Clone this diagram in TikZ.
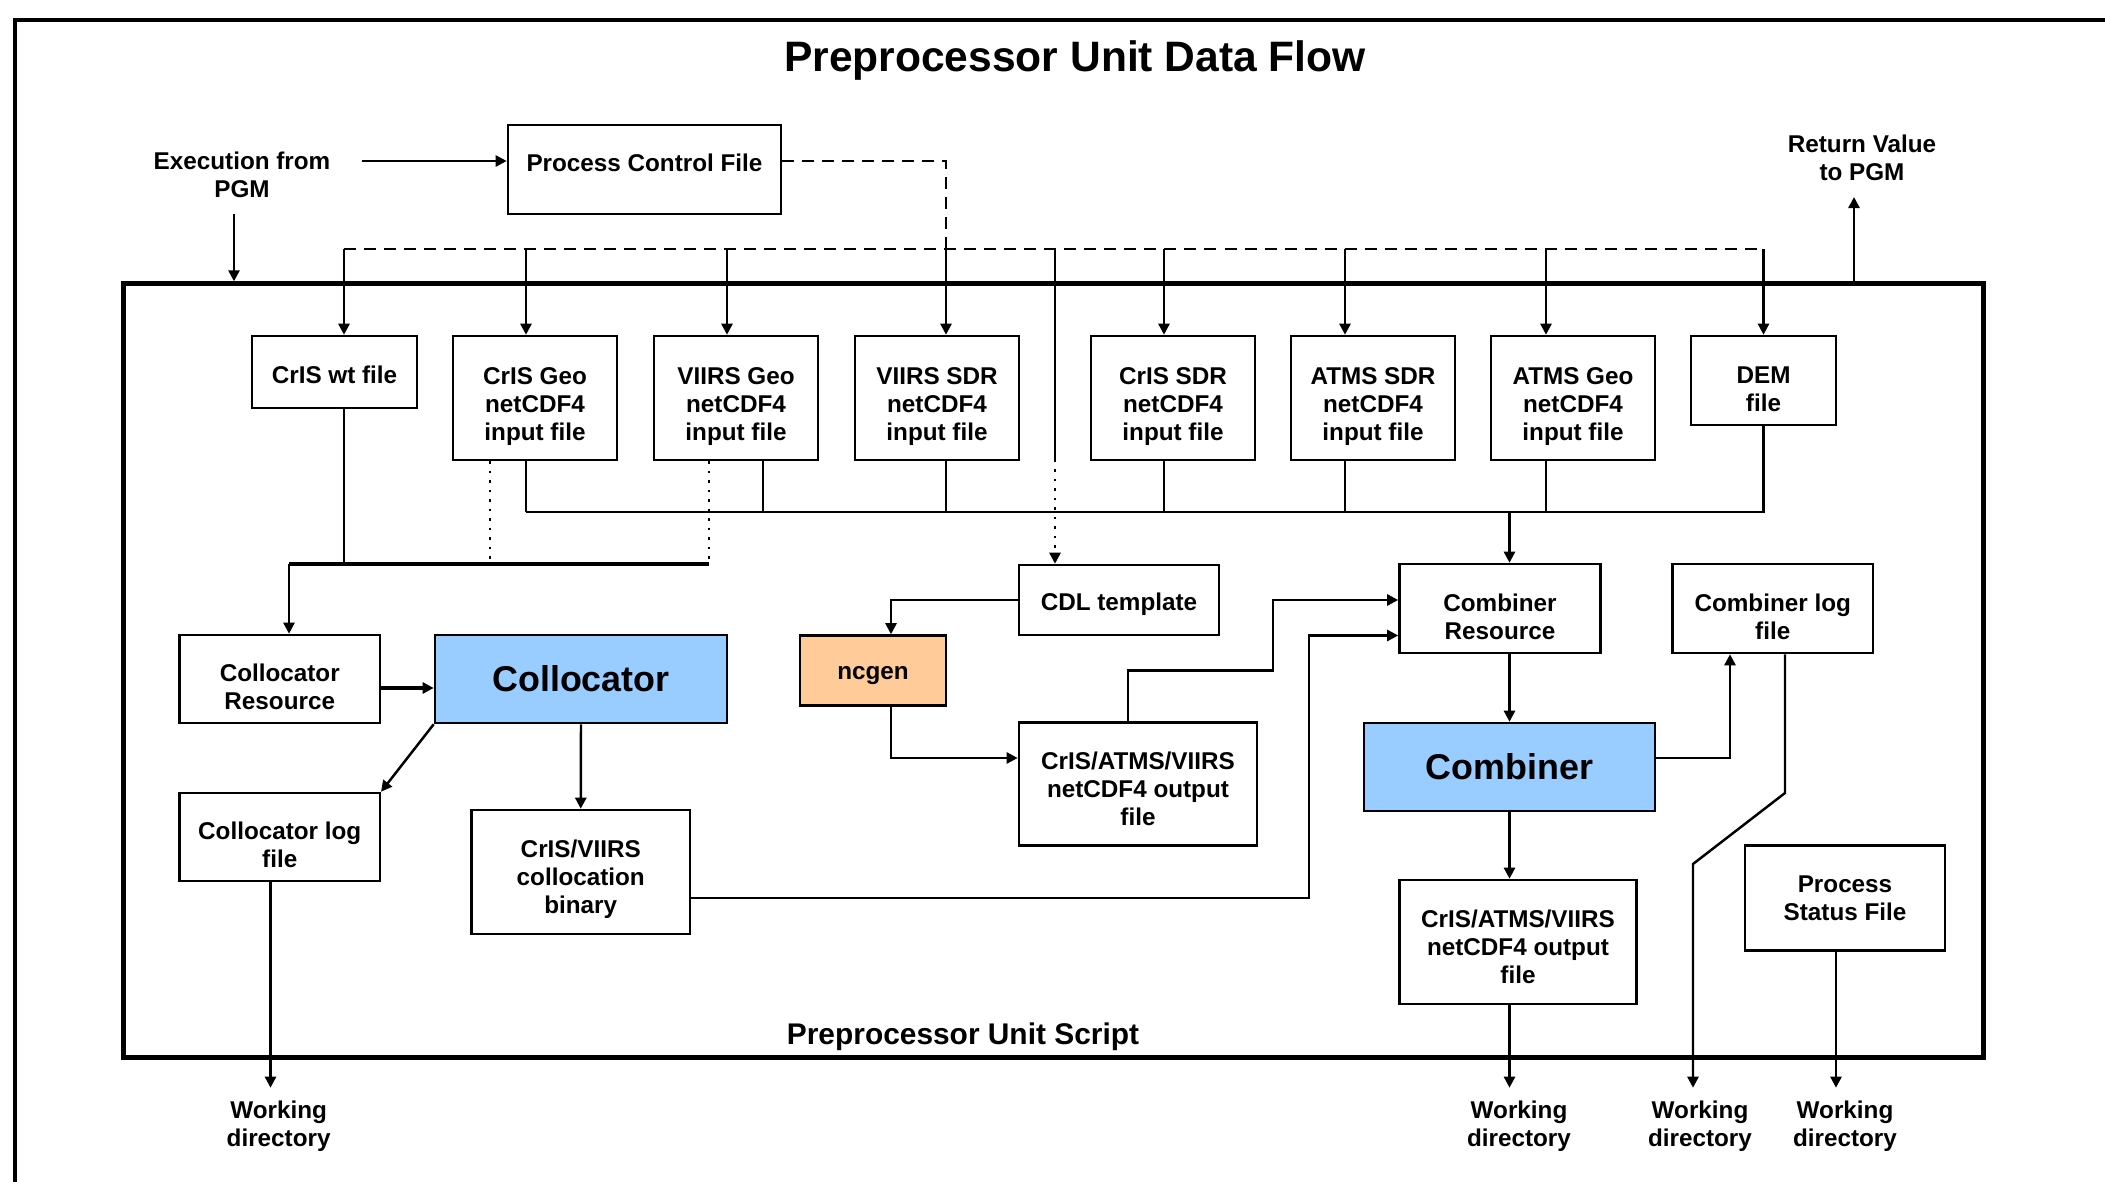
\documentclass[tikz,border=0pt]{standalone}
\usepackage{fontspec}
\setmainfont{Liberation Sans}
\usetikzlibrary{arrows.meta,positioning,calc}
\definecolor{ProcBlue}{HTML}{99CCFF}
\definecolor{ToolOrange}{HTML}{FFCC99}
\newcommand{\boxtxt}{\fontsize{6.9}{7.97}\selectfont\bfseries}
\newcommand{\proctxt}{\fontsize{10.2}{12}\selectfont\bfseries}
\newcommand{\headtxt}{\fontsize{12.1}{14}\selectfont\bfseries}
\newcommand{\scripttxt}{\fontsize{8.5}{10}\selectfont\bfseries}

\begin{document}
\begin{tikzpicture}[x=0.01cm,y=-0.01cm,line width=0.7pt,>={Triangle[length=1.1mm,width=1.1mm]},
  box/.style={draw,fill=white,align=center,inner sep=1pt,font=\boxtxt},
  lowered/.style={text depth=0pt,text height=#1},
  infile/.style={box,minimum width=1.64cm,minimum height=1.24cm,lowered=0.845cm},
  proc/.style={box,fill=ProcBlue,font=\proctxt},
  plain/.style={align=center,font=\boxtxt},
  ctrl/.style={dash pattern=on 0.12cm off 0.08cm}]
  \clip (0,0) rectangle (2105,1182);
  \draw[line width=0.9pt] (15,1200) -- (15,20) -- (2120,20);
  \node[font=\headtxt] (title) at (1075,61) {Preprocessor Unit Data Flow};
  \node[draw,line width=1.4pt,minimum width=18.59cm,minimum height=7.73cm] (script) at (1053.5,670.5) {};
  \node[font=\scripttxt] (scriptlbl) at (963,1037) {Preprocessor Unit Script};

  % outside the script
  \node[plain] (exec) at (242,175) {Execution from\\PGM};
  \node[plain] (ret)  at (1862,158) {Return Value\\to PGM};
  \node[box,minimum width=2.73cm,minimum height=0.89cm,text depth=0.14cm] (pcf) at (644.5,169.5) {Process Control File};

  % input files
  \node[box,minimum width=1.65cm,minimum height=0.72cm,lowered=0.235cm] (criswt) at (334.5,372) {CrIS wt file};
  \node[infile] (crisgeo)  at (535,398)  {CrIS Geo\\netCDF4\\input file};
  \node[infile] (viirsgeo) at (736,398)  {VIIRS Geo\\netCDF4\\input file};
  \node[infile] (viirssdr) at (937,398)  {VIIRS SDR\\netCDF4\\input file};
  \node[infile] (crissdr)  at (1173,398) {CrIS SDR\\netCDF4\\input file};
  \node[infile] (atmssdr)  at (1373,398) {ATMS SDR\\netCDF4\\input file};
  \node[infile] (atmsgeo)  at (1573,398) {ATMS Geo\\netCDF4\\input file};
  \node[box,minimum width=1.45cm,minimum height=0.89cm,lowered=0.615cm] (dem) at (1763.5,380.5) {DEM\\file};

  % collocator side
  \node[box,minimum width=2cm,minimum height=0.88cm,lowered=0.615cm] (collres) at (279.75,679) {Collocator\\Resource};
  \node[proc,minimum width=2.92cm,minimum height=0.88cm] (coll) at (581,679) {Collocator};
  \node[box,minimum width=2cm,minimum height=0.88cm,lowered=0.615cm] (colllog) at (279.75,837) {Collocator log\\file};
  \node[box,minimum width=2.18cm,minimum height=1.24cm,lowered=0.825cm] (binary) at (580.75,872) {CrIS/VIIRS\\collocation\\binary};
  \node[box,fill=ToolOrange,minimum width=1.46cm,minimum height=0.7cm,lowered=0.18cm] (ncgen) at (873,670.5) {ncgen};
  \node[box,minimum width=2cm,minimum height=0.7cm,lowered=0.205cm] (cdl) at (1119,600) {CDL template};
  \node[box,minimum width=2.38cm,minimum height=1.23cm,lowered=0.835cm] (out1) at (1138,784) {CrIS/ATMS/VIIRS\\netCDF4 output\\file};

  % combiner side
  \node[box,minimum width=2.01cm,minimum height=0.89cm,lowered=0.615cm] (combres) at (1500,608.5) {Combiner\\Resource};
  \node[box,minimum width=2cm,minimum height=0.89cm,lowered=0.615cm] (clog) at (1772.75,608.5) {Combiner log\\file};
  \node[proc,minimum width=2.91cm,minimum height=0.88cm] (comb) at (1509.5,767) {Combiner};
  \node[box,minimum width=2.37cm,minimum height=1.24cm,lowered=0.835cm] (out2) at (1518,942) {CrIS/ATMS/VIIRS\\netCDF4 output\\file};
  \node[box,minimum width=2cm,minimum height=1.05cm] (psf) at (1845,898) {Process\\Status File};

  \node[plain] (wd1) at (278.6,1126) {Working\\directory};
  \node[plain] (wd2) at (1519,1126)  {Working\\directory};
  \node[plain] (wd3) at (1700,1126)  {Working\\directory};
  \node[plain] (wd4) at (1845,1126)  {Working\\directory};

  % turning points
  \coordinate (execout) at (362,161);
  \coordinate (execdn)  at (234,214);
  \coordinate (retup)   at (1854,197);
  \coordinate (pcfturn) at (946,161);
  \coordinate (busW)    at (344,249);
  \coordinate (busE)    at (1763.5,249);
  \coordinate (cdltap)  at (1055,249);
  \coordinate (cdldot)  at (1055,460);
  \coordinate (sbusW)   at (526,512);
  \coordinate (sbusE)   at (1763.5,512);
  \coordinate (feedW)   at (289,564);
  \coordinate (feedE)   at (709,564);
  \coordinate (ncturn)  at (891,600);
  \coordinate (binturn) at (1309,635.5);
  \coordinate (outturn) at (1273,670.7);
  \coordinate (logA)    at (1785,793);
  \coordinate (logB)    at (1693,864);
  \path ($(crisgeo.south)+(-45,0)$)  coordinate (geodot)
        ($(colllog.south)+(-9.25,0)$) coordinate (colllogout)
        ($(psf.south)+(-9,0)$)        coordinate (psfout);

  % control
  \draw[->] (execout) -- (execout -| pcf.west);
  \draw[->] (execdn) -- (execdn |- script.north);
  \draw[->] (retup |- script.north) -- (retup);
  \draw[ctrl] (pcfturn -| pcf.east) -- (pcfturn) -- ($(pcfturn |- busW)+(0,4)$);
  \draw[ctrl] (busW) -- (busE);
  \foreach \b/\dx in {criswt/9.5,crisgeo/-9,viirsgeo/-9,viirssdr/9,crissdr/-9,atmssdr/-28,atmsgeo/-27} {
    \path ($(\b.north)+(\dx,0)$) coordinate (tap);
    \draw[->] (tap |- busW) -- (tap);
  }
  \draw[->] (busE) -- (dem.north);
  \draw (cdltap) -- (cdldot);
  \draw[dotted,->] (cdldot) -- (cdldot |- cdl.north);

  % inputs to collocator
  \draw ($(criswt.south)+(9.5,0)$) -- (busW |- feedW);
  \draw[line width=0.9pt] (feedW) -- (feedE);
  \draw[dotted] (geodot) -- (geodot |- feedW);
  \draw[dotted] ($(viirsgeo.south)+(-27,0)$) -- (feedE);
  \draw[->] (feedW) -- (feedW |- collres.north);

  % inputs to combiner
  \foreach \b/\dx in {crisgeo/-9,viirsgeo/27,viirssdr/9,crissdr/-9,atmssdr/-28,atmsgeo/-27} {
    \path ($(\b.south)+(\dx,0)$) coordinate (tap);
    \draw (tap) -- (tap |- sbusW);
  }
  \draw (sbusW) -- (sbusE) -- (dem.south);
  \draw[->] (comb.north |- sbusW) -- (comb.north |- combres.north);

  % collocator
  \draw[->,line width=1pt] ($(collres.east)+(0,9)$) -- ($(coll.west)+(0,9)$);
  \draw[->] (coll.south west) -- (colllog.north east);
  \draw[->] (coll.south) -- (binary.north);
  \draw[->] ($(binary.east)+(0,26)$) -| (binturn) -- (binturn -| combres.west);
  \draw[->] (ncturn -| cdl.west) -- (ncturn) -- (ncturn |- ncgen.north);
  \draw[->] (ncturn |- ncgen.south) |- ($(out1.west)+(0,-26)$);
  \draw[->] ($(out1.north)+(-10,0)$) |- (outturn) |- ($(combres.west)+(0,-8.5)$);

  % combiner
  \draw[->] (comb.north |- combres.south) -- (comb.north);
  \draw[->] ($(comb.east)+(0,-9)$) -| ($(clog.south)+(-42.75,0)$);
  \draw[->] (comb.south) -- (comb.south |- out2.north);

  % to working directory
  \draw[->] (colllogout) -- (colllogout |- wd1.north);
  \draw[->] (comb.south |- out2.south) -- (comb.south |- wd2.north);
  \draw[->] (logA |- clog.south) -- (logA) -- (logB) -- (logB |- wd3.north);
  \draw[->] (psfout) -- (psfout |- wd4.north);
\end{tikzpicture}
\end{document}
